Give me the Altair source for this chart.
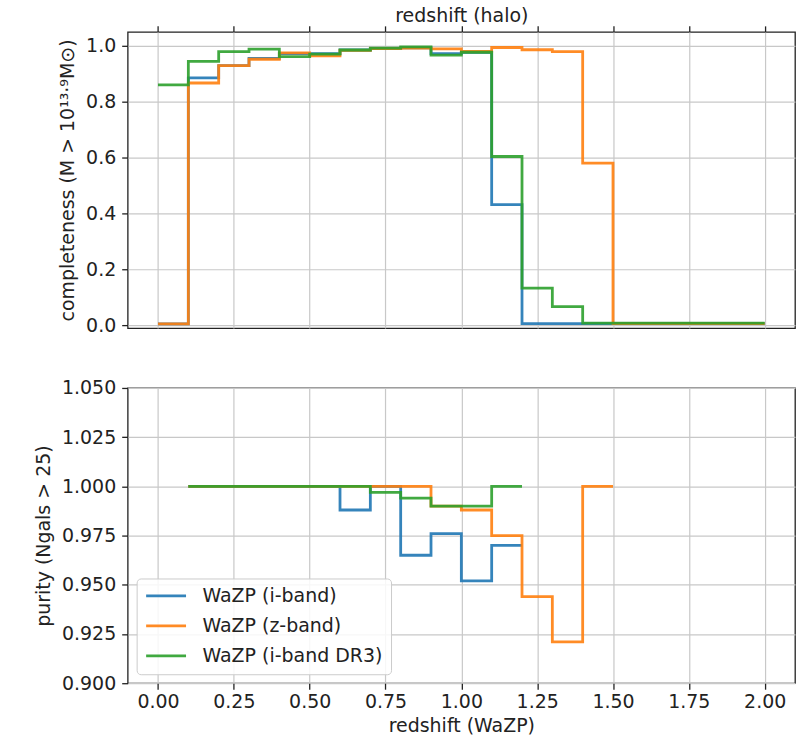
import altair as alt
import pandas as pd

# ---------------- data ----------------
series_names = ["WaZP (i-band)", "WaZP (z-band)", "WaZP (i-band DR3)"]
series_colors = ["#1f77b4", "#ff7f0e", "#2ca02c"]

# completeness (top panel), bins of 0.1 in redshift from 0.0 to 2.0
compl_edges = [0.0, 0.1, 0.2, 0.3, 0.4, 0.5, 0.6, 0.7, 0.8, 0.9, 1.0,
               1.1, 1.2, 1.3, 1.4, 1.5, 1.6, 1.7, 1.8, 1.9, 2.0]
compl_iband = [0.005, 0.885, 0.929, 0.955, 0.972, 0.972, 0.985, 0.990, 0.993, 0.972,
               0.977, 0.432, 0.006, 0.006, 0.006, 0.006, 0.006, 0.006, 0.006, 0.006]
compl_zband = [0.005, 0.867, 0.929, 0.952, 0.975, 0.964, 0.984, 0.990, 0.992, 0.989,
               0.980, 0.994, 0.986, 0.979, 0.580, 0.006, 0.006, 0.006, 0.006, 0.006]
compl_dr3 = [0.860, 0.944, 0.979, 0.988, 0.961, 0.970, 0.985, 0.992, 0.996, 0.967,
             0.977, 0.604, 0.133, 0.067, 0.008, 0.008, 0.008, 0.008, 0.008, 0.008]

# purity (bottom panel)
pur_edges_iband = [0.1, 0.2, 0.3, 0.4, 0.5, 0.6, 0.7, 0.8, 0.9, 1.0, 1.1, 1.2]
pur_iband = [1.0, 1.0, 1.0, 1.0, 1.0, 0.988, 1.0, 0.965, 0.976, 0.952, 0.970]
pur_edges_zband = [0.1, 0.2, 0.3, 0.4, 0.5, 0.6, 0.7, 0.8, 0.9, 1.0, 1.1, 1.2, 1.3, 1.4, 1.5]
pur_zband = [1.0, 1.0, 1.0, 1.0, 1.0, 1.0, 1.0, 1.0, 0.990, 0.988, 0.975, 0.944, 0.921, 1.0]
pur_edges_dr3 = [0.1, 0.2, 0.3, 0.4, 0.5, 0.6, 0.7, 0.8, 0.9, 1.0, 1.1, 1.2]
pur_dr3 = [1.0, 1.0, 1.0, 1.0, 1.0, 1.0, 0.997, 0.994, 0.990, 0.990, 1.0]

x_ticks = [0.0, 0.25, 0.5, 0.75, 1.0, 1.25, 1.5, 1.75, 2.0]
compl_ticks = [0.0, 0.2, 0.4, 0.6, 0.8, 1.0]
pur_ticks = [0.9, 0.925, 0.95, 0.975, 1.0, 1.025, 1.05]


def steps(edges, vals, name):
    rows = [{"z": e, "v": v, "s": name} for e, v in zip(edges[:-1], vals)]
    rows.append({"z": edges[-1], "v": vals[-1], "s": name})
    return pd.DataFrame(rows)


top_frames = [steps(compl_edges, compl_iband, series_names[0]),
              steps(compl_edges, compl_zband, series_names[1]),
              steps(compl_edges, compl_dr3, series_names[2])]
bot_frames = [steps(pur_edges_iband, pur_iband, series_names[0]),
              steps(pur_edges_zband, pur_zband, series_names[1]),
              steps(pur_edges_dr3, pur_dr3, series_names[2])]

FONT = "DejaVu Sans"
W, H = 669, 297
LW = 2.8
OP = 0.9

x_scale = alt.Scale(domain=[-0.1, 2.1], nice=False, zero=False)

# ---------------- top panel ----------------
x_top = alt.X("z:Q", scale=x_scale,
              axis=alt.Axis(orient="top", values=x_ticks, labels=False,
                            title="redshift (halo)", grid=True, titlePadding=0))
y_top = alt.Y("v:Q", scale=alt.Scale(domain=[-0.01, 1.05], nice=False, zero=False),
              axis=alt.Axis(values=compl_ticks, format=".1f",
                            title="completeness (M > 10¹³·⁹M⊙)"))
c_top = alt.Color("s:N", scale=alt.Scale(domain=series_names, range=series_colors),
                  legend=None)

top = alt.layer(*[
    alt.Chart(df).mark_line(interpolate="step-after", strokeWidth=LW, opacity=OP)
    .encode(x=x_top, y=y_top, color=c_top)
    for df in top_frames
]).properties(width=W, height=H)

# ---------------- bottom panel ----------------
x_bot = alt.X("z:Q", scale=x_scale,
              axis=alt.Axis(values=x_ticks, format=".2f", title="redshift (WaZP)",
                            grid=True, labelPadding=3, titlePadding=5))
y_bot = alt.Y("v:Q", scale=alt.Scale(domain=[0.9, 1.05], nice=False, zero=False),
              axis=alt.Axis(values=pur_ticks, format=".3f",
                            title="purity (Ngals > 25)"))
c_bot = alt.Color("s:N", scale=alt.Scale(domain=series_names, range=series_colors),
                  legend=alt.Legend(title=None, orient="bottom-left", offset=9))

bottom = alt.layer(*[
    alt.Chart(df).mark_line(interpolate="step-after", strokeWidth=LW, opacity=OP)
    .encode(x=x_bot, y=y_bot, color=c_bot)
    for df in bot_frames
]).properties(width=W, height=296)

chart = alt.vconcat(top, bottom, spacing=60, bounds="flush").resolve_legend(
    color="independent"
).properties(
    padding={"left": 33, "top": 4, "right": 0, "bottom": 5}
).configure_view(
    stroke="#222222", strokeWidth=1.3
).configure_axis(
    labelFont=FONT, titleFont=FONT, labelFontSize=19, titleFontSize=19,
    titleFontWeight="normal", labelColor="#222222", titleColor="#222222",
    tickColor="#222222", tickSize=6, tickWidth=1.3, labelPadding=6,
    titlePadding=8, domain=False, gridColor="#c8c8c8", gridWidth=1.2
).configure_legend(
    labelFont=FONT, labelFontSize=19, labelColor="#222222", labelLimit=0,
    symbolType="stroke", symbolSize=1600, symbolStrokeWidth=LW,
    symbolOpacity=OP, clipHeight=19, rowPadding=10, labelOffset=15,
    padding=8, fillColor="rgba(255,255,255,0.85)", strokeColor="#cccccc",
    cornerRadius=4
)

chart.save("out.html", embed_options={"renderer": "svg", "actions": False})
